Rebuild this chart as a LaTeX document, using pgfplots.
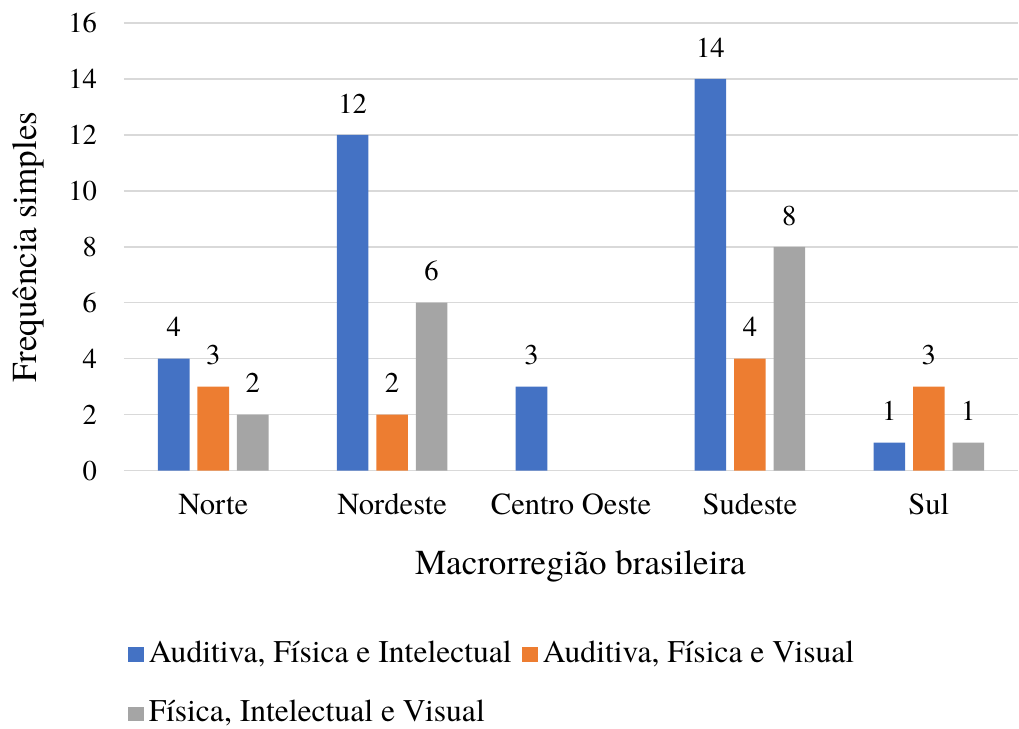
\documentclass[border=0pt]{standalone}
\usepackage{pgfplots}
\pgfplotsset{compat=1.18}
\usepackage{fontspec}
\setmainfont{TeX Gyre Termes}

\definecolor{cBlue}{HTML}{4472C4}
\definecolor{cOrange}{HTML}{ED7D31}
\definecolor{cGray}{HTML}{A5A5A5}
\definecolor{cGrid}{HTML}{D9D9D9}

\pgfplotsset{
  sqlegend/.style={legend image code/.code={\fill[##1] (0pt,-8pt) rectangle (16.5pt,7pt);}},
}

\begin{document}
\begin{tikzpicture}
\begin{axis}[
  scale only axis,
  width=906.2pt, height=453.4pt,
  xmin=-0.5, xmax=4.5, ymin=0, ymax=16,
  ybar=8pt, bar width=32pt,
  xtick={0,1,2,3,4},
  xticklabels={Norte,Nordeste,Centro Oeste,Sudeste,Sul},
  ytick={0,2,...,16},
  major tick length=0pt,
  axis line style={draw=none},
  ymajorgrids,
  grid style={draw=cGrid, line width=1.5pt},
  /pgf/number format/assume math mode=true,
  yticklabel style={font=\fontsize{29}{34}\selectfont, anchor=east, inner sep=0pt, xshift=-27pt},
  xticklabel style={font=\fontsize{31}{36}\selectfont, anchor=base, inner sep=0pt, yshift=-45pt},
  xlabel={Macrorregião brasileira},
  ylabel={Frequência simples},
  every axis x label/.style={at={(axis description cs:0.5105,-0.2316)}, anchor=base, font=\fontsize{35.5}{40}\selectfont},
  every axis y label/.style={at={(axis description cs:-0.0979,0.4989)}, rotate=90, anchor=base, font=\fontsize{35.5}{40}\selectfont},
  nodes near coords,
  every node near coord/.append style={anchor=base, yshift=22pt, inner sep=0pt, font=\fontsize{29}{34}\selectfont},
  legend columns=2,
  legend cell align=left,
  legend style={at={(axis description cs:0.0043,-0.3763)}, anchor=north west,
    draw=none, fill=none, inner sep=0pt, outer sep=0pt, row sep=29pt,
    font=\fontsize{32}{36}\selectfont,
    nodes={inner sep=0pt, text height=24pt, text depth=7pt},
    /tikz/every odd column/.append style={column sep=5pt},
    /tikz/every even column/.append style={column sep=10pt}},
]
\addplot[fill=cBlue, draw=none, sqlegend] coordinates {(0,4) (1,12) (2,3) (3,14) (4,1)};
\addplot[fill=cOrange, draw=none, sqlegend] coordinates {(0,3) (1,2) (3,4) (4,3)};
\addplot[fill=cGray, draw=none, sqlegend] coordinates {(0,2) (1,6) (3,8) (4,1)};
\legend{Auditiva{,} Física e Intelectual, Auditiva{,} Física e Visual, Física{,} Intelectual e Visual}
\end{axis}
\path[use as bounding box] (-125.4pt,-248.3pt) rectangle (893.6pt,476.7pt);
\end{tikzpicture}
\end{document}
